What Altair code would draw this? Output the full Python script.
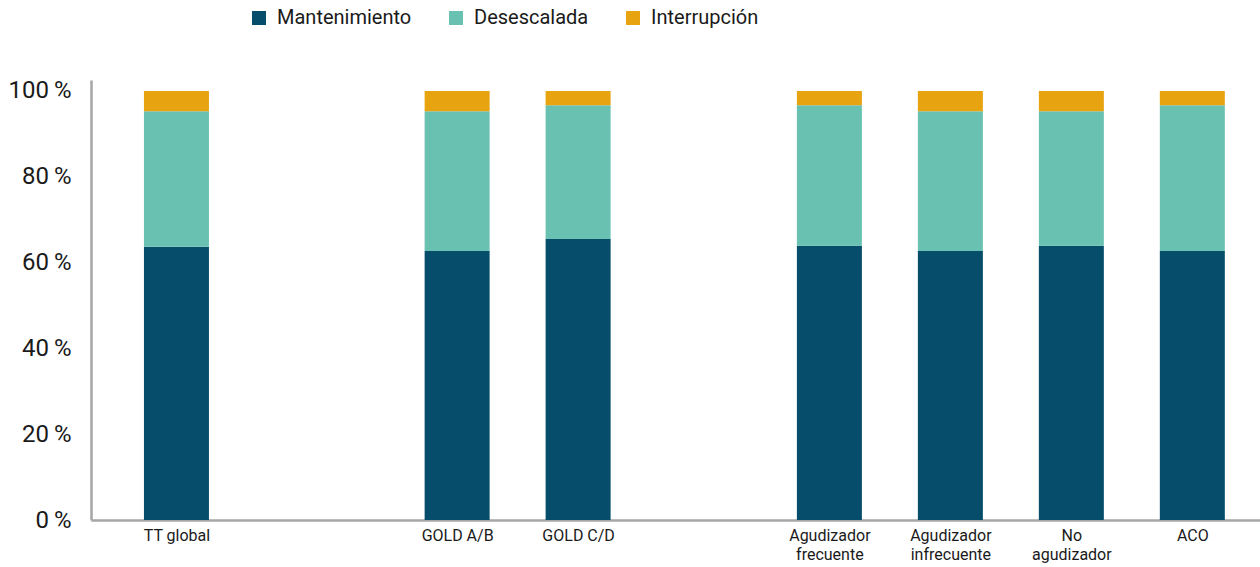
import json
import altair as alt
import pandas as pd

# ---- data ----
categories = ["TT global", "GOLD A/B", "GOLD C/D", "Agudizador\nfrecuente",
              "Agudizador\ninfrecuente", "No\nagudizador", "ACO"]
groups = [0, 1, 1, 2, 2, 2, 2]
series = ["Mantenimiento", "Desescalada", "Interrupción"]
mantenimiento = [63.7, 62.7, 65.5, 63.9, 62.7, 63.9, 62.7]
desescalada = [31.6, 32.6, 31.2, 32.8, 32.6, 31.4, 34.0]
interrupcion = [4.7, 4.7, 3.3, 3.3, 4.7, 4.7, 3.3]
y_ticks = [0, 20, 40, 60, 80, 100]
colors = ["#054D6B", "#68C1B1", "#E8A310"]

# ---- layout (gaps between groups of bars) ----
group_offset = {0: 0.0, 1: 1.32, 2: 2.397}
positions = [round(i + group_offset[g], 3) for i, g in enumerate(groups)]

rows = []
for i, cat in enumerate(categories):
    for k, (s, vals) in enumerate(zip(series, [mantenimiento, desescalada, interrupcion])):
        rows.append({"cat": cat, "pos": positions[i], "serie": s, "valor": vals[i], "orden": k})
df = pd.DataFrame(rows)

label_arrays = [c.split("\n") for c in categories]
label_expr = (f"{json.dumps(label_arrays, ensure_ascii=False)}"
              f"[indexof({json.dumps(positions)}, round(datum.value*1000)/1000)]")

FONT = "Roboto"
AXIS_COLOR = "#A6A6A6"

chart = alt.Chart(df).mark_bar(size=65).encode(
    x=alt.X("pos:Q",
            scale=alt.Scale(domain=[-0.665, 8.915], nice=False, zero=False),
            axis=alt.Axis(values=positions, labelExpr=label_expr, title=None,
                          grid=False, ticks=False, tickSize=0,
                          domainColor=AXIS_COLOR, domainWidth=2.5,
                          labelFont=FONT, labelFontSize=16, labelColor="#1A1A1A",
                          labelPadding=7, labelLineHeight=19, labelAngle=0,
                          labelAlign="center", labelBaseline="top",
                          labelOverlap=False, labelFlush=False)),
    y=alt.Y("valor:Q", stack="zero",
            scale=alt.Scale(domain=[0, 102.56], nice=False),
            axis=alt.Axis(values=y_ticks, labelExpr="datum.value + '\u2009%'",
                          title=None, grid=False, ticks=False, tickSize=0,
                          domainColor=AXIS_COLOR, domainWidth=2.5,
                          labelFont=FONT, labelFontSize=24, labelColor="#1A1A1A",
                          labelPadding=20)),
    color=alt.Color("serie:N",
                    scale=alt.Scale(domain=series, range=colors),
                    legend=alt.Legend(title=None, orient="none", direction="horizontal",
                                      legendX=158, legendY=-72,
                                      symbolType="square", symbolSize=196,
                                      symbolStrokeWidth=0, symbolOpacity=1,
                                      labelFont=FONT, labelFontSize=20,
                                      labelColor="#1A1A1A", labelOffset=8,
                                      columnPadding=34, labelLimit=300)),
    order=alt.Order("orden:Q", sort="ascending"),
).properties(
    width=1169,
    height=440,
    autosize=alt.AutoSizeParams(type="none"),
    padding={"left": 91, "top": 80, "right": 0, "bottom": 47},
    background="white",
).configure_view(stroke=None)

chart.save("out.html", embed_options={"renderer": "svg", "actions": False})
